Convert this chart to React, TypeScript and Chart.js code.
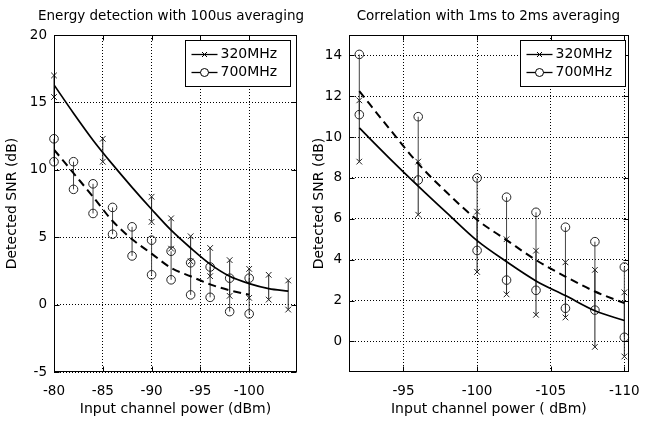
import React, { useEffect, useRef } from 'react';
import { Chart, registerables } from 'chart.js';
Chart.register(...registerables);

const FONT = '"DejaVu Sans", sans-serif';

// ---------- Left panel: Energy detection ----------
const leftXTicks = [-80, -85, -90, -95, -100];
const leftYTicks = [-5, 0, 5, 10, 15, 20];

const leftBarX320 = [-80, -85, -90, -92, -94, -96, -98, -100, -102, -104];
const leftHi320 = [17.0, 12.3, 8.0, 6.4, 5.07, 4.2, 3.3, 2.65, 2.21, 1.79];
const leftLo320 = [15.4, 10.6, 6.14, 4.15, 3.2, 2.11, 0.65, 0.5, 0.37, -0.37];

const leftBarX700 = [-80, -82, -84, -86, -88, -90, -92, -94, -96, -98, -100];
const leftHi700 = [12.3, 10.6, 8.96, 7.21, 5.77, 4.78, 3.96, 3.1, 2.79, 1.96, 1.96];
const leftLo700 = [10.6, 8.55, 6.76, 5.22, 3.61, 2.21, 1.84, 0.72, 0.54, -0.52, -0.69];

const leftFitX320 = [-80, -82, -84, -86, -88, -90, -92, -94, -96, -98, -100, -102, -104];
const leftFit320 = [16.3, 14.2, 12.2, 10.4, 8.7, 7.07, 5.52, 4.2, 3.0, 2.1, 1.56, 1.19, 1.0];
const leftFitX700 = [-80, -82, -84, -86, -88, -90, -92, -94, -96, -98, -100];
const leftFit700 = [11.5, 9.75, 8.0, 6.2, 4.85, 3.78, 2.72, 2.1, 1.5, 1.06, 0.74];

// ---------- Right panel: Correlation ----------
const rightXTicks = [-95, -100, -105, -110];
const rightYTicks = [0, 2, 4, 6, 8, 10, 12, 14];

const rightBarX = [-92, -96, -100, -102, -104, -106, -108, -110];
const rightHi320 = [11.8, 8.8, 6.35, 5.0, 4.44, 3.87, 3.5, 2.4];
const rightLo320 = [8.8, 6.2, 3.4, 2.3, 1.3, 1.17, -0.27, -0.74];
const rightHi700 = [14.05, 11.0, 8.0, 7.06, 6.32, 5.59, 4.88, 3.64];
const rightLo700 = [11.1, 7.9, 4.45, 3.0, 2.5, 1.62, 1.53, 0.2];

const rightFitX = [-92, -94, -96, -98, -100, -102, -104, -106, -108, -110];
const rightFit320 = [10.45, 9.0, 7.6, 6.25, 4.93, 3.9, 2.96, 2.24, 1.5, 1.02];
const rightFit700 = [12.25, 10.45, 8.7, 7.25, 5.95, 4.96, 3.98, 3.17, 2.44, 1.87];

const legendLabels = ['320MHz', '700MHz'];

type Panel = {
  title: string;
  xTitle: string;
  xMin: number; xMax: number; yMin: number; yMax: number;
  xTicks: number[]; yTicks: number[];
  fitX320: number[]; fit320: number[]; fitX700: number[]; fit700: number[];
  barX320: number[]; hi320: number[]; lo320: number[];
  barX700: number[]; hi700: number[]; lo700: number[];
  width: number; yAxisWidth: number; padRight: number; yTitlePad: number; legendRight: number;
  titleShift: number;
};

const pairs = (xs: number[], ys: number[]) => xs.map((x, i) => ({ x, y: ys[i] }));
const barPoints = (xs: number[], his: number[], los: number[]) => {
  const pts: any[] = [];
  xs.forEach((x, i) => { pts.push({ x, y: los[i] }, { x, y: his[i] }, { x, y: null }); });
  return pts;
};

function makeFramePlugin(p: Panel) {
  return {
    id: 'matlabFrame',
    afterDraw(chart: any) {
      const { ctx, chartArea } = chart;
      const { left, right, top, bottom } = chartArea;
      const L = Math.round(left) + 0.5, R = Math.round(right) - 0.5;
      const T = Math.round(top) + 0.5, B = Math.round(bottom) - 0.5;
      ctx.save();
      ctx.strokeStyle = '#000';
      ctx.lineWidth = 1;
      ctx.setLineDash([]);
      const line = (x1: number, y1: number, x2: number, y2: number) => {
        ctx.beginPath(); ctx.moveTo(x1, y1); ctx.lineTo(x2, y2); ctx.stroke();
      };
      const xs = chart.scales.x, ys = chart.scales.y;
      xs.ticks.forEach((t: any) => {
        const px = Math.round(xs.getPixelForValue(t.value)) + 0.5;
        line(px, B, px, B - 5); line(px, T, px, T + 5);
      });
      ys.ticks.forEach((t: any) => {
        const py = Math.round(ys.getPixelForValue(t.value)) + 0.5;
        line(L, py, L + 5, py); line(R, py, R - 5, py);
      });
      ctx.strokeRect(L, T, R - L, B - T);

      // title
      ctx.fillStyle = '#000';
      ctx.font = '13.5px ' + FONT;
      ctx.textAlign = 'center';
      ctx.textBaseline = 'middle';
      ctx.fillText(p.title, (left + right) / 2 + p.titleShift, 16);

      // legend
      const bw = 105, bh = 46;
      const bx = Math.round(right - p.legendRight - bw) + 0.5;
      const by = Math.round(top + 5) + 0.5;
      ctx.fillStyle = '#fff';
      ctx.fillRect(bx, by, bw, bh);
      ctx.strokeRect(bx, by, bw, bh);
      const rows = [by + 13, by + 31.5];
      rows.forEach((ry, i) => {
        const y = Math.round(ry) + 0.5;
        ctx.lineWidth = 1.3;
        line(bx + 6, y, bx + 32, y);
        ctx.lineWidth = 1;
        const cx = bx + 19;
        if (i === 0) {
          line(cx - 2.5, y - 2.5, cx + 2.5, y + 2.5);
          line(cx - 2.5, y + 2.5, cx + 2.5, y - 2.5);
        } else {
          ctx.beginPath(); ctx.arc(cx, y, 4, 0, Math.PI * 2);
          ctx.fillStyle = '#fff'; ctx.fill(); ctx.stroke();
        }
        ctx.fillStyle = '#000';
        ctx.font = '14px ' + FONT;
        ctx.textBaseline = 'middle';
        ctx.textAlign = 'left';
        ctx.fillText(legendLabels[i], bx + 35, y);
      });
      ctx.restore();
    },
  };
}

function PanelChart({ p, left }: { p: Panel; left: number }) {
  const ref = useRef<HTMLCanvasElement | null>(null);
  useEffect(() => {
    if (!ref.current) return;
    const tickFont = { family: FONT, size: 13.5 };
    const chart = new Chart(ref.current, {
      type: 'line',
      data: {
        datasets: [
          {
            label: '320MHz fit', data: pairs(p.fitX320, p.fit320),
            borderColor: '#000', borderWidth: 1.7, pointRadius: 0, cubicInterpolationMode: 'monotone',
          },
          {
            label: '700MHz fit', data: pairs(p.fitX700, p.fit700),
            borderColor: '#000', borderWidth: 2, borderDash: [8, 5], pointRadius: 0, cubicInterpolationMode: 'monotone',
          },
          {
            label: '320MHz', data: barPoints(p.barX320, p.hi320, p.lo320),
            borderColor: '#222', borderWidth: 1, spanGaps: false, clip: false,
            pointStyle: 'crossRot', pointRadius: 4, pointBorderColor: '#222', pointBorderWidth: 1,
            pointBackgroundColor: 'rgba(0,0,0,0)',
          },
          {
            label: '700MHz', data: barPoints(p.barX700, p.hi700, p.lo700),
            borderColor: '#444', borderWidth: 1, spanGaps: false, clip: false,
            pointStyle: 'circle', pointRadius: 4.3, pointBorderColor: '#222', pointBorderWidth: 1,
            pointBackgroundColor: 'rgba(0,0,0,0)',
          },
        ] as any,
      },
      options: {
        responsive: false,
        animation: false,
        devicePixelRatio: 1,
        events: [],
        layout: { padding: { left: 0, right: p.padRight, top: 35, bottom: 0 }, autoPadding: false } as any,
        plugins: {
          legend: { display: false },
          tooltip: { enabled: false },
          title: { display: false },
        },
        scales: {
          x: {
            type: 'linear', reverse: true, min: p.xMin, max: p.xMax,
            afterBuildTicks: (s: any) => { s.ticks = p.xTicks.map((v) => ({ value: v })); },
            afterFit: (s: any) => { s.height = 50; },
            ticks: { font: tickFont, color: '#000', padding: 11, maxRotation: 0, autoSkip: false, callback: (v: any) => String(v) },
            grid: { color: '#000', lineWidth: 1, drawTicks: false },
            border: { display: false, dash: [1, 2] },
            title: { display: true, text: p.xTitle, color: '#000', font: { family: FONT, size: 14 }, padding: { top: 0, bottom: 4.6 } },
          },
          y: {
            type: 'linear', min: p.yMin, max: p.yMax,
            afterBuildTicks: (s: any) => { s.ticks = p.yTicks.map((v) => ({ value: v })); },
            afterFit: (s: any) => { s.width = p.yAxisWidth; },
            ticks: { font: tickFont, color: '#000', padding: 7, autoSkip: false, callback: (v: any) => String(v) },
            grid: { color: '#000', lineWidth: 1, drawTicks: false },
            border: { display: false, dash: [1, 2] },
            title: { display: true, text: 'Detected SNR (dB)', color: '#000', font: { family: FONT, size: 14 }, padding: { top: p.yTitlePad, bottom: 0 } },
          },
        },
      } as any,
      plugins: [makeFramePlugin(p) as any],
    });
    return () => chart.destroy();
  }, [p]);
  return (
    <canvas ref={ref} width={p.width} height={422}
      style={{ position: 'absolute', left, top: 0, width: p.width, height: 422 }} />
  );
}

const leftPanel: Panel = {
  title: 'Energy detection with 100us averaging',
  xTitle: 'Input channel power (dBm)',
  xMin: -104.9, xMax: -80, yMin: -5, yMax: 20,
  xTicks: leftXTicks, yTicks: leftYTicks,
  fitX320: leftFitX320, fit320: leftFit320, fitX700: leftFitX700, fit700: leftFit700,
  barX320: leftBarX320, hi320: leftHi320, lo320: leftLo320,
  barX700: leftBarX700, hi700: leftHi700, lo700: leftLo700,
  width: 322, yAxisWidth: 54, padRight: 25, yTitlePad: 3.6, legendRight: 7, titleShift: -4.5,
};

const rightPanel: Panel = {
  title: 'Correlation with 1ms to 2ms averaging',
  xTitle: 'Input channel power ( dBm)',
  xMin: -110.3, xMax: -91.3, yMin: -1.5, yMax: 15,
  xTicks: rightXTicks, yTicks: rightYTicks,
  fitX320: rightFitX, fit320: rightFit320, fitX700: rightFitX, fit700: rightFit700,
  barX320: rightBarX, hi320: rightHi320, lo320: rightLo320,
  barX700: rightBarX, hi700: rightHi700, lo700: rightLo700,
  width: 351, yAxisWidth: 49, padRight: 21, yTitlePad: 10.6, legendRight: 4, titleShift: -0.5,
};

export default function App() {
  return (
    <div style={{ position: 'absolute', left: 0, top: 0, width: 651, height: 422, background: '#fff', overflow: 'hidden' }}>
      <PanelChart p={leftPanel} left={0} />
      <PanelChart p={rightPanel} left={300} />
    </div>
  );
}
